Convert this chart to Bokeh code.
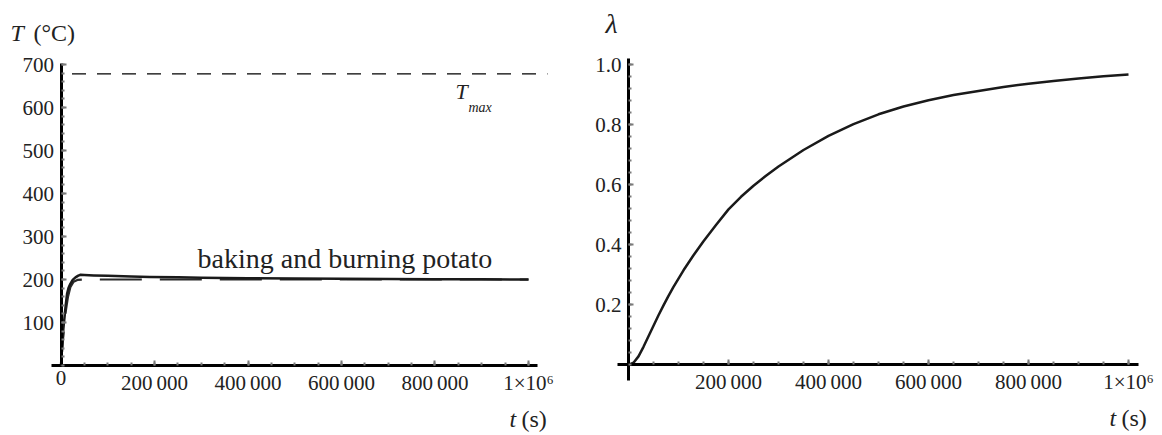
from bokeh.plotting import figure
from bokeh.layouts import row
from bokeh.models import FixedTicker, Label, Range1d
from bokeh.core.properties import value
from bokeh.embed import file_html
from bokeh.resources import INLINE

# ---------------- data ----------------
# left panel: temperature T (°C) vs time t (s)
t_burn = [0, 2500, 5000, 7500, 10000, 13000, 16000, 20000, 25000, 31000, 37000, 42000,
          50000, 70000, 100000, 150000, 190000, 250000, 300000, 400000, 500000, 600000,
          700000, 800000, 900000, 1000000]
T_burn = [0, 45, 85, 112, 140, 167, 180, 190, 199, 205, 209, 211,
          210.5, 209.5, 208.5, 207, 206, 205, 204.2, 203, 202.2, 201.6,
          201, 200.6, 200.3, 200]

t_bake = [0, 2500, 5000, 7500, 10000, 15000, 20000, 27000, 35000, 50000, 70000, 1000000]
T_bake = [0, 38, 70, 100, 125, 160, 182, 195, 199, 200, 200, 200]

T_MAX = 678
tmax_t = [0, 1040600]
tmax_T = [T_MAX, T_MAX]

# right panel: lambda vs time t (s)
t_lam = [0, 10000, 20000, 30000, 40000, 50000, 60000, 70000, 80000, 90000, 110000,
         130000, 150000, 175000, 200000, 225000, 250000, 275000, 300000, 350000,
         400000, 450000, 500000, 550000, 600000, 650000, 700000, 750000, 800000,
         850000, 900000, 950000, 1000000]
lam = [0, 0.007, 0.028, 0.06, 0.095, 0.13, 0.165, 0.198, 0.23, 0.26, 0.315,
       0.365, 0.412, 0.466, 0.518, 0.56, 0.597, 0.63, 0.661, 0.716,
       0.763, 0.802, 0.835, 0.861, 0.882, 0.899, 0.913, 0.926, 0.937,
       0.946, 0.954, 0.962, 0.968]

# ticks
x_ticks = [0, 200000, 400000, 600000, 800000, 1000000]
x_labels_left = ["0", "200\u2009000", "400\u2009000", "600\u2009000", "800\u2009000", "1\u00d710\u2076"]
x_ticks_right = [200000, 400000, 600000, 800000, 1000000]
x_labels_right = ["200\u2009000", "400\u2009000", "600\u2009000", "800\u2009000", "1\u00d710\u2076"]
x_minor = [50000 * i for i in range(0, 21)]

T_ticks = [100, 200, 300, 400, 500, 600, 700]
T_labels = ["100", "200", "300", "400", "500", "600", "700"]
T_minor = [20 * i for i in range(0, 36)]

lam_ticks = [0.2, 0.4, 0.6, 0.8, 1.0]
lam_labels = ["0.2", "0.4", "0.6", "0.8", "1.0"]
lam_minor = [round(0.04 * i, 2) for i in range(0, 26)]

FONT = "Liberation Serif"
CURVE = "#1a1a1a"
TXT = "#222222"


def style_axis(ax, ticks):
    ax.axis_line_width = 3
    ax.axis_line_color = "black"
    ax.major_tick_in = 5
    ax.major_tick_out = 0
    ax.minor_tick_in = 3
    ax.minor_tick_out = 0
    ax.major_tick_line_color = "#7a7a7a"
    ax.minor_tick_line_color = "#7a7a7a"
    ax.major_tick_line_width = 2
    ax.minor_tick_line_width = 2
    # tick labels are drawn as text glyphs below
    ax.major_label_overrides = {t: "" for t in ticks}


def base_fig(width, height, xr, yr):
    p = figure(width=width, height=height, x_range=Range1d(*xr), y_range=Range1d(*yr),
               output_backend="svg", toolbar_location=None, title=None,
               min_border=0, min_border_left=0, min_border_right=0,
               min_border_top=0, min_border_bottom=0)
    p.xgrid.visible = False
    p.ygrid.visible = False
    p.outline_line_color = None
    p.background_fill_color = "white"
    p.border_fill_color = "white"
    return p


def add_text(p, x, y, text, size, style="normal"):
    p.add_layout(Label(x=x, y=y, text=text, text_font=FONT, text_font_size=size,
                       text_font_style=style, text_color=TXT,
                       text_align="left", text_baseline="alphabetic"))


def x_tick_labels(p, ticks, labels):
    p.text(x=ticks, y=[0] * len(ticks), text=labels, text_font=value(FONT),
           text_font_size=value("21px"), text_color=TXT, text_align="center",
           text_baseline="top", y_offset=5)


def y_tick_labels(p, ticks, labels):
    p.text(x=[0] * len(ticks), y=ticks, text=labels, text_font=value(FONT),
           text_font_size=value("21px"), text_color=TXT, text_align="right",
           text_baseline="middle", x_offset=-7)


# ---------------- left panel ----------------
p1 = base_fig(578, 435, (-129412, 1106952), (-162.79, 848.84))

p1.line(tmax_t, tmax_T, line_color="black", line_width=1.3, line_dash="14 11", line_dash_offset=14)
p1.line(t_bake, T_bake, line_color="#2a2a2a", line_width=2.2, line_dash="42 18", line_dash_offset=8)
p1.line(t_burn, T_burn, line_color=CURVE, line_width=2.5, line_join="round")

style_axis(p1.xaxis[0], x_ticks)
style_axis(p1.yaxis[0], T_ticks)
p1.xaxis.ticker = FixedTicker(ticks=x_ticks, minor_ticks=x_minor)
p1.xaxis.bounds = (-20321, 1019251)
p1.xaxis.fixed_location = 0
p1.yaxis.ticker = FixedTicker(ticks=T_ticks, minor_ticks=T_minor)
p1.yaxis.bounds = (0, 702.3)
p1.yaxis.fixed_location = 0

x_tick_labels(p1, x_ticks, x_labels_left)
y_tick_labels(p1, T_ticks, T_labels)

add_text(p1, -108021, 774.4, "T", "24px", "italic")
add_text(p1, -58824, 774.4, "(\u00b0C)", "24px")
add_text(p1, 843850, 637.2, "T", "22px", "italic")
add_text(p1, 871658, 600.0, "max", "14px", "italic")
add_text(p1, 291979, 248.8, "baking and burning potato", "28px")
add_text(p1, 959358, -123.3, "t", "24px", "italic")
add_text(p1, 985027, -123.3, "(s)", "24px")

# ---------------- right panel ----------------
p2 = base_fig(584, 435, (-100000, 1068000), (-0.23567, 1.21433))

p2.line(t_lam, lam, line_color=CURVE, line_width=2.5, line_join="round")

style_axis(p2.xaxis[0], x_ticks)
style_axis(p2.yaxis[0], lam_ticks)
p2.xaxis.ticker = FixedTicker(ticks=x_ticks, minor_ticks=x_minor)
p2.xaxis.bounds = (-22000, 1020000)
p2.xaxis.fixed_location = 0
p2.yaxis.ticker = FixedTicker(ticks=lam_ticks, minor_ticks=lam_minor)
p2.yaxis.bounds = (-0.0523, 1.021)
p2.yaxis.fixed_location = 0

x_tick_labels(p2, x_ticks_right, x_labels_right)
y_tick_labels(p2, lam_ticks, lam_labels)

add_text(p2, -46000, 1.1377, "\u03bb", "28px", "italic")
add_text(p2, 962000, -0.179, "t", "24px", "italic")
add_text(p2, 986000, -0.179, "(s)", "24px")

layout = row(p1, p2)
open("out.html", "w").write(file_html(layout, INLINE))
